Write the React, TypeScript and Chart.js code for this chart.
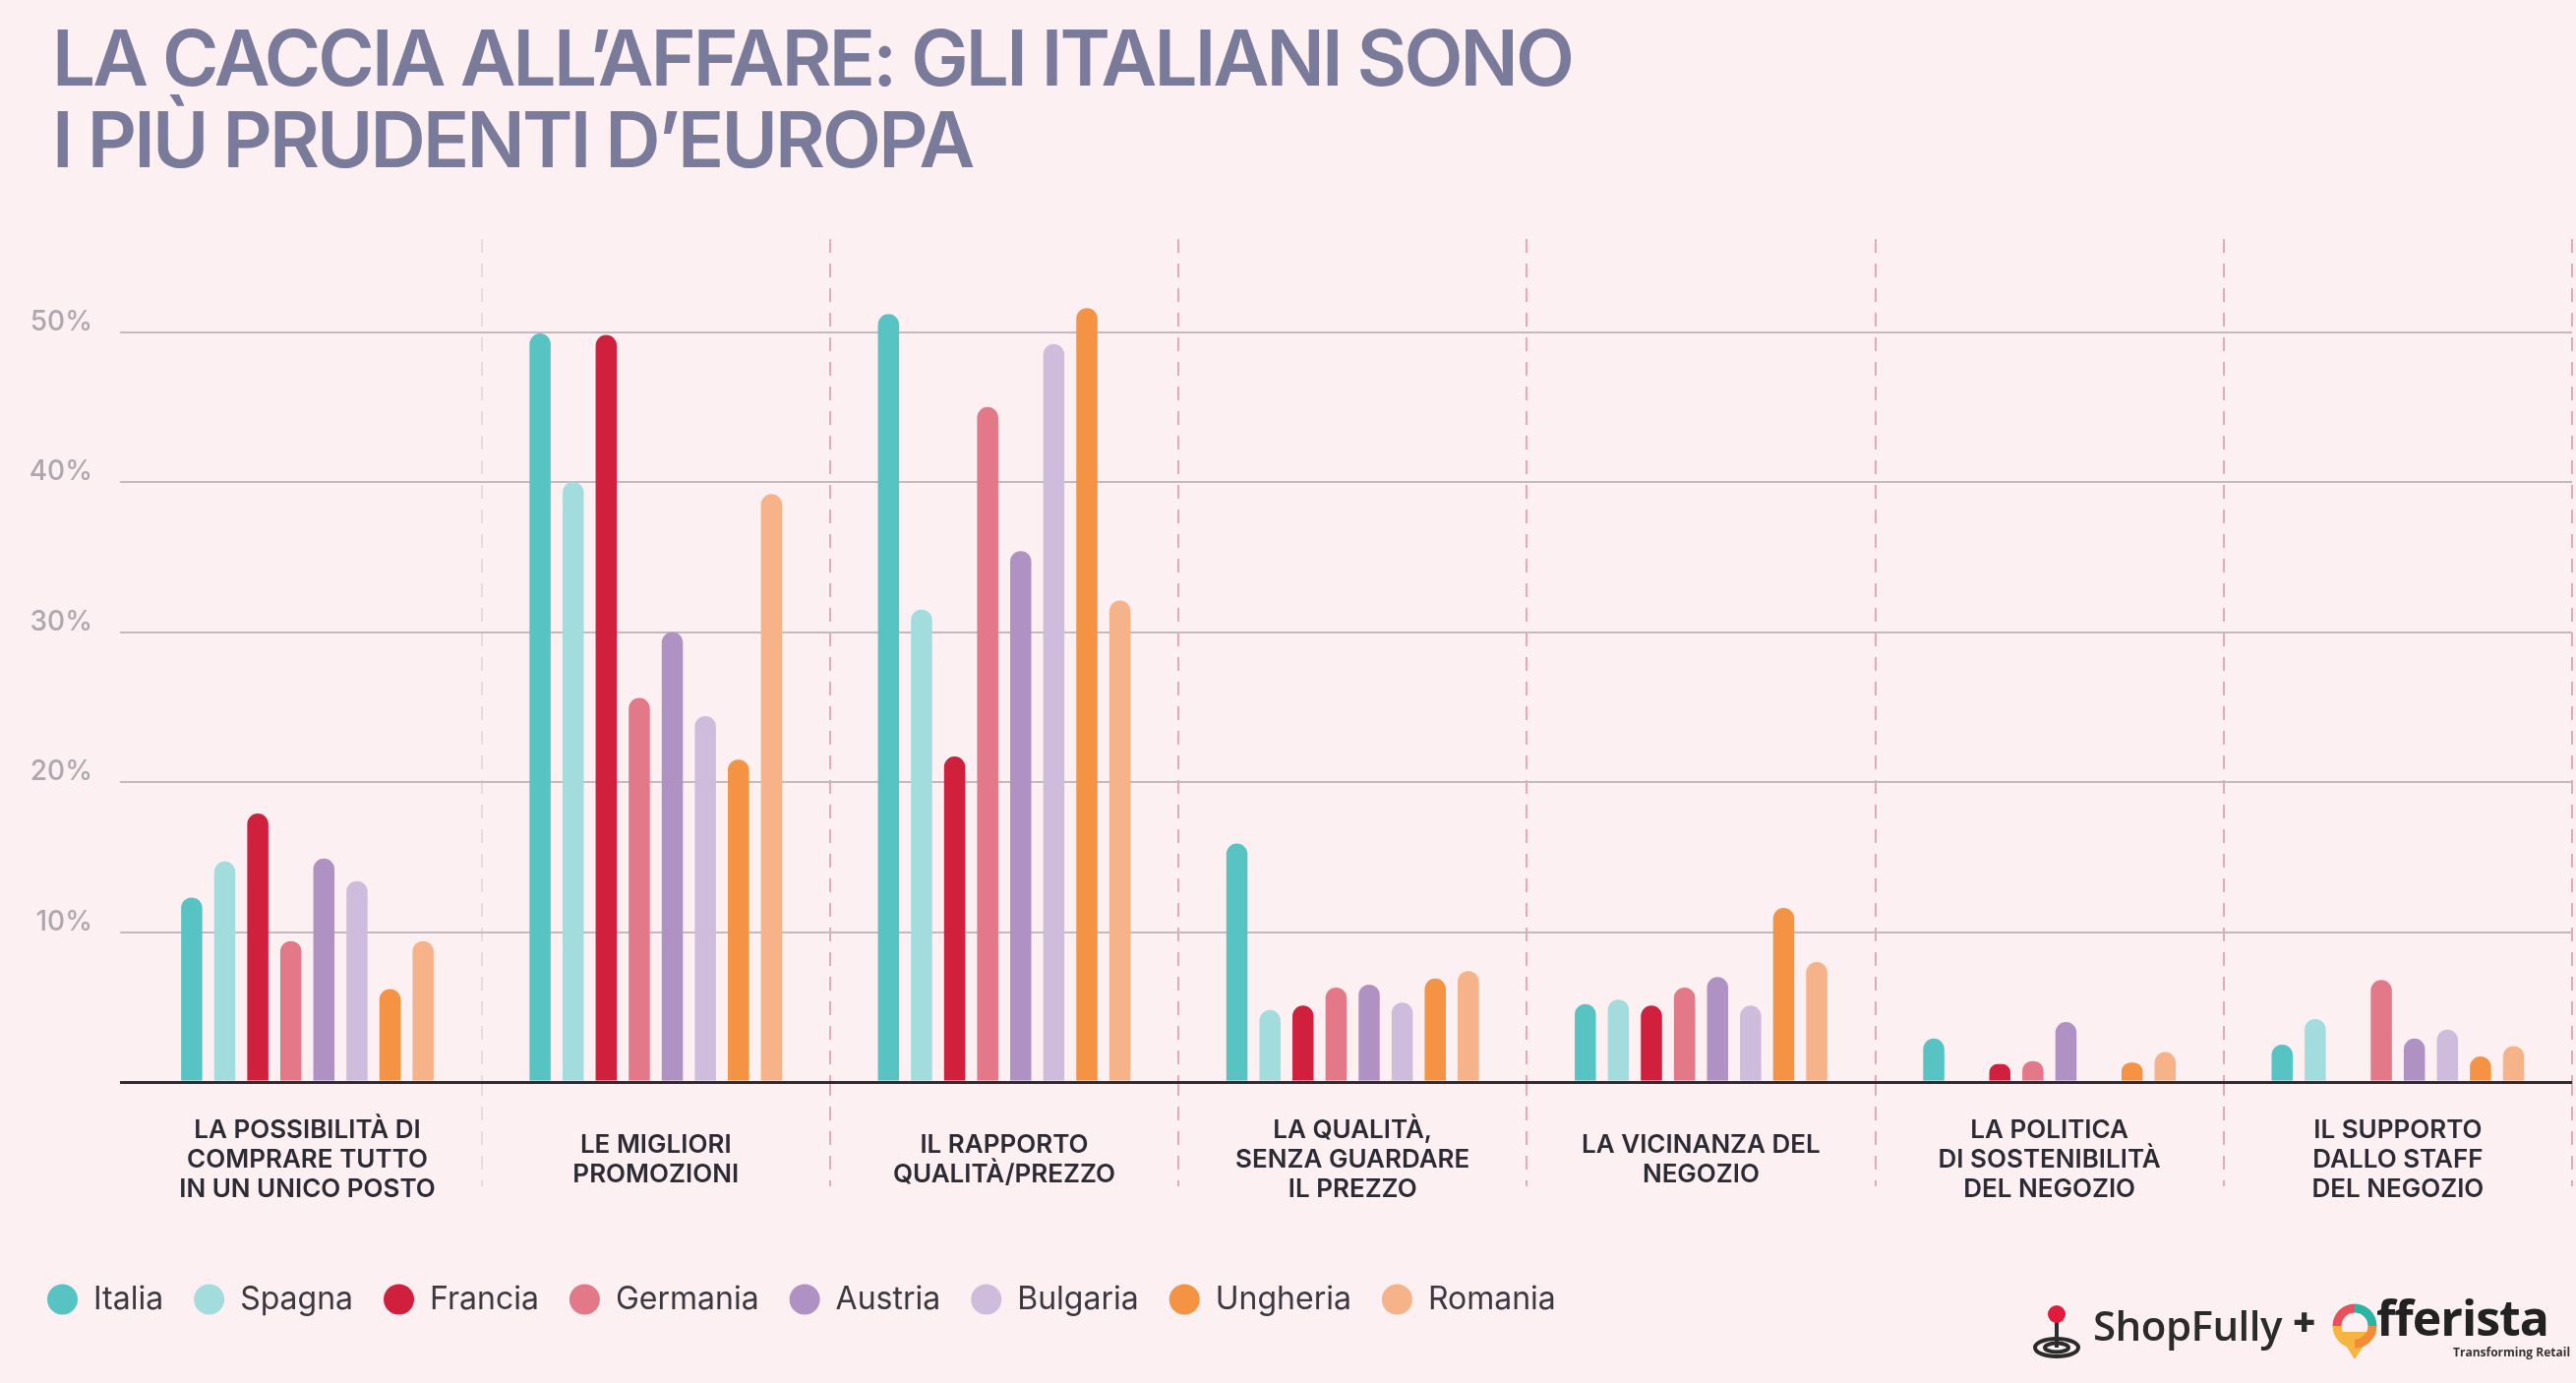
import React, { useEffect, useRef } from "react";
import { Chart, registerables } from "chart.js";

Chart.register(...registerables);

// ---- data ----
const categories: string[][] = [
  ["LA POSSIBILITÀ DI", "COMPRARE TUTTO", "IN UN UNICO POSTO"],
  ["LE MIGLIORI", "PROMOZIONI"],
  ["IL RAPPORTO", "QUALITÀ/PREZZO"],
  ["LA QUALITÀ,", "SENZA GUARDARE", "IL PREZZO"],
  ["LA VICINANZA DEL", "NEGOZIO"],
  ["LA POLITICA", "DI SOSTENIBILITÀ", "DEL NEGOZIO"],
  ["IL SUPPORTO", "DALLO STAFF", "DEL NEGOZIO"],
];

const countries = ["Italia", "Spagna", "Francia", "Germania", "Austria", "Bulgaria", "Ungheria", "Romania"];
const countryColors = ["#58c3c3", "#a3dcdd", "#d0203e", "#e27888", "#b091c3", "#cfbcdc", "#f39343", "#f6b389"];

const italia = [12.3, 49.9, 51.2, 15.9, 5.2, 2.9, 2.5];
const spagna = [14.7, 40.0, 31.5, 4.8, 5.5, 0, 4.2];
const francia = [17.9, 49.8, 21.7, 5.1, 5.1, 1.2, 0];
const germania = [9.4, 25.6, 45.0, 6.3, 6.3, 1.4, 6.8];
const austria = [14.9, 30.0, 35.4, 6.5, 7.0, 4.0, 2.9];
const bulgaria = [13.4, 24.4, 49.2, 5.3, 5.1, 0, 3.5];
const ungheria = [6.2, 21.5, 51.6, 6.9, 11.6, 1.3, 1.7];
const romania = [9.4, 39.2, 32.1, 7.4, 8.0, 2.0, 2.4];

const seriesValues = [italia, spagna, francia, germania, austria, bulgaria, ungheria, romania];

const yTickValues = [0, 10, 20, 30, 40, 50];
const yTickLabels = ["", "10%", "20%", "30%", "40%", "50%"];

const titleLines = ["LA CACCIA ALL’AFFARE: GLI ITALIANI SONO", "I PIÙ PRUDENTI D’EUROPA"];

const BG = "#fcf0f3";

export default function App() {
  const canvasRef = useRef<HTMLCanvasElement | null>(null);

  useEffect(() => {
    const canvas = canvasRef.current;
    if (!canvas) return;
    const dividerColor = (c: any) =>
      c.index === 0 || c.index >= categories.length
        ? "rgba(0,0,0,0)"
        : c.index === 1
        ? "#ead9df"
        : "#e2a9ba";
    const yGridColor = (c: any) => (c.tick && c.tick.value === 0 ? "#2e2b33" : "#c2babf");
    const yGridWidth = (c: any) => (c.tick && c.tick.value === 0 ? 3 : 2);
    const chart = new Chart(canvas, {
      type: "bar",
      data: {
        labels: categories,
        datasets: countries.map((name, i) => ({
          label: name,
          data: seriesValues[i],
          backgroundColor: countryColors[i],
          borderWidth: 0,
          borderRadius: { topLeft: 11, topRight: 11, bottomLeft: 0, bottomRight: 0 },
          borderSkipped: "start",
          categoryPercentage: 0.759,
          barPercentage: 0.64,
        })),
      },
      options: {
        responsive: false,
        animation: false,
        devicePixelRatio: 1,
        layout: { padding: { top: 243, left: 17, right: 4, bottom: 59 } },
        plugins: {
          tooltip: { enabled: false },
          title: { display: false },
          legend: {
            position: "bottom",
            align: "start",
            labels: {
              usePointStyle: true,
              pointStyle: "circle",
              pointStyleWidth: 31,
              boxHeight: 22,
              padding: 31,
              color: "#3b3840",
              font: { family: "Inter", size: 32, weight: "400" },
            },
          },
        },
        scales: {
          x: {
            type: "category",
            offset: true,
            border: { display: false, dash: [14, 11] },
            grid: {
              offset: true,
              drawOnChartArea: true,
              drawTicks: true,
              tickLength: 106,
              lineWidth: 2,
              tickWidth: 2,
              tickBorderDash: [14, 11],
              color: dividerColor,
              tickColor: dividerColor,
            },
            ticks: {
              autoSkip: false,
              maxRotation: 0,
              minRotation: 0,
              padding: -57,
              crossAlign: "center",
              color: "#2c2a33",
              font: { family: "Inter", size: 26, weight: "600", lineHeight: 1.16 },
            },
            afterFit: (s: any) => {
              s.height = 174;
            },
          },
          y: {
            min: 0,
            max: 56.2,
            border: { display: false },
            grid: {
              drawTicks: true,
              tickLength: 13.4,
              color: yGridColor,
              tickColor: yGridColor,
              lineWidth: yGridWidth,
              tickWidth: yGridWidth,
            },
            afterBuildTicks: (s: any) => {
              s.ticks = yTickValues.map((v) => ({ value: v }));
            },
            ticks: {
              padding: 28,
              labelOffset: -10,
              color: "#aca8ad",
              font: { family: "Inter", size: 28, weight: "500" },
              callback: (v: any) => {
                const idx = yTickValues.indexOf(Number(v));
                return idx >= 0 ? yTickLabels[idx] : "";
              },
            },
            afterFit: (s: any) => {
              s.width = 118.4;
            },
          },
        },
      } as any,
    });
    return () => chart.destroy();
  }, []);

  return (
    <div
      style={{
        position: "fixed",
        left: 0,
        top: 0,
        width: 2619,
        height: 1406,
        background: BG,
        overflow: "hidden",
      }}
    >
      <canvas
        ref={canvasRef}
        width={2619}
        height={1406}
        style={{ position: "absolute", left: 0, top: 0, width: 2619, height: 1406 }}
      />
      <div
        style={{
          position: "absolute",
          left: 53,
          top: 17,
          fontFamily: "Inter, sans-serif",
          fontWeight: 600,
          fontSize: 78,
          lineHeight: "83px",
          letterSpacing: "-2.8px",
          color: "#7a7a9b",
          whiteSpace: "nowrap",
        }}
      >
        {titleLines.map((l, i) => (
          <div key={i}>{l}</div>
        ))}
      </div>
      {/* logo */}
      <svg
        style={{ position: "absolute", left: 2066, top: 1326 }}
        width={50}
        height={56}
        viewBox="0 0 50 56"
      >
        <ellipse cx={25} cy={44} rx={22} ry={9} fill="none" stroke="#2b2b2b" strokeWidth={4} />
        <ellipse cx={25} cy={44} rx={12} ry={4.5} fill="none" stroke="#2b2b2b" strokeWidth={4} />
        <line x1={25} y1={16} x2={25} y2={44} stroke="#2b2b2b" strokeWidth={4} />
        <circle cx={25} cy={10} r={9} fill="#e01b3c" />
      </svg>
      <div
        style={{
          position: "absolute",
          left: 2128,
          top: 1318,
          fontFamily: "'Open Sans', sans-serif",
          fontWeight: 600,
          fontSize: 42,
          color: "#2b2b2b",
          letterSpacing: "-0.5px",
          whiteSpace: "nowrap",
        }}
      >
        ShopFully
      </div>
      <div
        style={{
          position: "absolute",
          left: 2331,
          top: 1316,
          fontFamily: "'Open Sans', sans-serif",
          fontWeight: 800,
          fontSize: 40,
          color: "#2b2b2b",
        }}
      >
        +
      </div>
      <svg
        style={{ position: "absolute", left: 2370, top: 1324 }}
        width={48}
        height={60}
        viewBox="0 0 48 60"
      >
        <path d="M6 30 L24 58 L42 30 Z" fill="#f6b53f" />
        <path d="M24 6 A18 18 0 0 1 42 24" fill="none" stroke="#2bb3a3" strokeWidth={9} />
        <path d="M42 24 A18 18 0 0 1 24 42" fill="none" stroke="#f28c38" strokeWidth={9} />
        <path d="M24 42 A18 18 0 0 1 6 24" fill="none" stroke="#f6b53f" strokeWidth={9} />
        <path d="M6 24 A18 18 0 0 1 24 6" fill="none" stroke="#e8505b" strokeWidth={9} />
      </svg>
      <div
        style={{
          position: "absolute",
          left: 2416,
          top: 1305,
          fontFamily: "'Open Sans', sans-serif",
          fontWeight: 700,
          fontSize: 50,
          color: "#222",
          letterSpacing: "-1px",
          whiteSpace: "nowrap",
        }}
      >
        fferista
      </div>
      <div
        style={{
          position: "absolute",
          left: 2494,
          top: 1366,
          fontFamily: "'Open Sans', sans-serif",
          fontWeight: 700,
          fontSize: 12,
          color: "#333",
          whiteSpace: "nowrap",
        }}
      >
        Transforming Retail
      </div>
    </div>
  );
}
